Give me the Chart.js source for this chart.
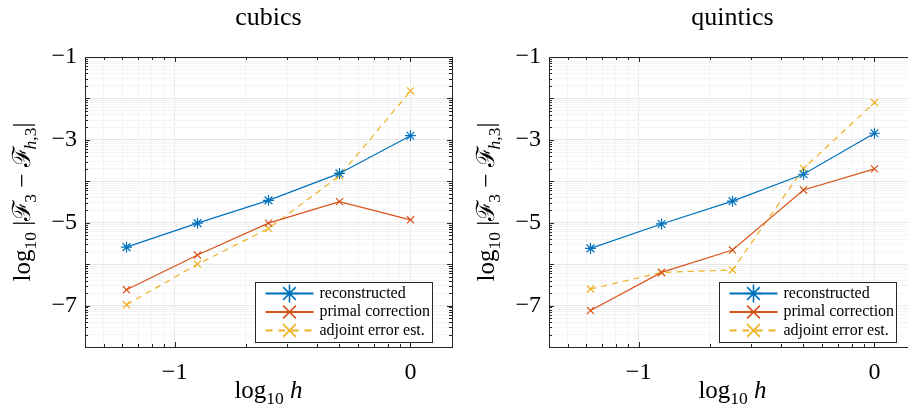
<!DOCTYPE html>
<html>
<head>
<meta charset="utf-8">
<script src="https://cdn.jsdelivr.net/npm/chart.js@4.4.0/dist/chart.umd.min.js"></script>
<style>
  html, body { margin: 0; padding: 0; background: #fff; overflow: hidden; width: 908px; height: 407px; }
  canvas { position: absolute; top: 0; }
  #cubics { left: 0; }
  #quintics { left: 464px; }
</style>
</head>
<body>
<canvas id="cubics" width="460" height="407"></canvas>
<canvas id="quintics" width="460" height="407"></canvas>
<script>
// data (log10 of h and of the error)
const logH = [-1.204, -0.903, -0.602, -0.301, 0];
const seriesNames = ['reconstructed', 'primal correction', 'adjoint error est.'];

const cubicRecon   = [-5.59, -5.01, -4.46, -3.81, -2.90];
const cubicPrimal  = [-6.62, -5.78, -5.01, -4.49, -4.93];
const cubicAdjoint = [-6.98, -6.00, -5.14, -3.87, -1.82];

const quinticRecon   = [-5.62, -5.03, -4.48, -3.83, -2.84];
const quinticPrimal  = [-7.12, -6.20, -5.66, -4.21, -3.70];
const quinticAdjoint = [-6.60, -6.20, -6.14, -3.69, -2.10];

const xLabelVals = [-1, 0];
const yLabelVals = [-1, -3, -5, -7];
const xRange = [-1.38, 0.176];
const yRange = [-8, -1];

const SERIF = "'Liberation Serif', 'DejaVu Serif', serif";
const BLUE = '#0072BD', ORANGE = '#D95319', YELLOW = '#EDB120';
const INK = '#262626';

// log-style tick positions (decades plus log10(k) inside each decade)
function logTicks(lo, hi) {
    const out = [];
    for (let d = Math.floor(lo) - 1; d <= Math.ceil(hi); d++) {
        for (let k = 1; k <= 9; k++) {
            const v = d + Math.log10(k);
            if (v >= lo - 1e-9 && v <= hi + 1e-9) out.push(v);
        }
    }
    return out;
}
const isMajor = v => Math.abs(v - Math.round(v)) < 1e-6;
const fmt = v => (v < 0 ? '\u2212' : '') + Math.abs(Math.round(v));

function drawRich(ctx, parts, x, y, size) {
    let w = 0;
    parts.forEach(p => {
        ctx.font = (p.it ? 'italic ' : '') + (size * (p.s || 1)) + 'px ' + SERIF;
        p.w = ctx.measureText(p.t).width + (p.kx || 0);
        w += p.w;
    });
    let cx = x - w / 2;
    ctx.textAlign = 'left';
    ctx.textBaseline = 'alphabetic';
    parts.forEach(p => {
        ctx.font = (p.it ? 'italic ' : '') + (size * (p.s || 1)) + 'px ' + SERIF;
        ctx.fillText(p.t, cx + (p.kx || 0), y + (p.dy || 0) * size);
        cx += p.w;
    });
}

function drawMarker(ctx, style, x, y, r) {
    ctx.beginPath();
    if (style === 'star') {
        ctx.moveTo(x - r, y); ctx.lineTo(x + r, y);
        ctx.moveTo(x, y - r); ctx.lineTo(x, y + r);
    }
    const d = r * Math.SQRT1_2;
    ctx.moveTo(x - d, y - d); ctx.lineTo(x + d, y + d);
    ctx.moveTo(x - d, y + d); ctx.lineTo(x + d, y - d);
    ctx.stroke();
}

const decoPlugin = {
    id: 'deco',
    afterDraw(chart, args, opts) {
        const ctx = chart.ctx;
        const a = chart.chartArea;
        const xs = chart.scales.x, ys = chart.scales.y;
        ctx.save();

        // inward tick marks on all four sides
        ctx.strokeStyle = INK;
        ctx.lineWidth = 1;
        ctx.beginPath();
        xs.ticks.forEach(t => {
            const px = Math.round(xs.getPixelForValue(t.value)) + 0.5;
            const len = isMajor(t.value) ? 5 : 3;
            ctx.moveTo(px, a.bottom); ctx.lineTo(px, a.bottom - len);
            ctx.moveTo(px, a.top); ctx.lineTo(px, a.top + len);
        });
        ys.ticks.forEach(t => {
            const py = Math.round(ys.getPixelForValue(t.value)) + 0.5;
            const len = isMajor(t.value) ? 5 : 3;
            ctx.moveTo(a.left, py); ctx.lineTo(a.left + len, py);
            ctx.moveTo(a.right, py); ctx.lineTo(a.right - len, py);
        });
        ctx.stroke();
        ctx.strokeRect(Math.round(a.left) + 0.5, Math.round(a.top) + 0.5,
            Math.round(a.right - a.left), Math.round(a.bottom - a.top));

        // title
        ctx.fillStyle = '#000';
        ctx.font = '26px ' + SERIF;
        ctx.textAlign = 'center';
        ctx.textBaseline = 'alphabetic';
        ctx.fillText(opts.title, (a.left + a.right) / 2, 25);

        // x axis label
        drawRich(ctx, [
            { t: 'log' }, { t: '10', s: 0.7, dy: 0.25 }, { t: ' ' }, { t: 'h', it: true }
        ], (a.left + a.right) / 2, 398, 25);

        // y axis label
        ctx.save();
        ctx.translate(30, (a.top + a.bottom) / 2);
        ctx.rotate(-Math.PI / 2);
        drawRich(ctx, [
            { t: 'log' }, { t: '10', s: 0.7, dy: 0.25 }, { t: ' |' },
            { t: '\u2131' }, { t: '3', s: 0.7, dy: 0.25, kx: -3 }, { t: ' \u2212 ' },
            { t: '\u2131' }, { t: 'h', s: 0.7, dy: 0.25, it: true, kx: -3 }, { t: ',3', s: 0.7, dy: 0.25 },
            { t: '|' }
        ], 0, 0, 25);
        ctx.restore();

        // legend box in the lower right corner
        const bw = 177, bh = 60;
        const bx = Math.round(a.right - 20 - bw) + 0.5;
        const by = Math.round(a.bottom - 5 - bh) + 0.5;
        ctx.fillStyle = '#fff';
        ctx.fillRect(bx, by, bw, bh);
        ctx.strokeStyle = INK;
        ctx.lineWidth = 1;
        ctx.strokeRect(bx, by, bw, bh);
        const rows = [11, 29.5, 48];
        chart.data.datasets.forEach((ds, i) => {
            const ry = by + rows[i];
            ctx.strokeStyle = ds.borderColor;
            ctx.lineWidth = 2;
            ctx.setLineDash(ds.borderDash && ds.borderDash.length ? [7, 6] : []);
            ctx.beginPath();
            ctx.moveTo(bx + 10, ry); ctx.lineTo(bx + 58, ry);
            ctx.stroke();
            ctx.setLineDash([]);
            ctx.lineWidth = 1.6;
            drawMarker(ctx, ds.pointStyle, bx + 34, ry, 9);
            ctx.fillStyle = '#000';
            ctx.font = '16px ' + SERIF;
            ctx.textAlign = 'left';
            ctx.textBaseline = 'middle';
            ctx.fillText(ds.label, bx + 64, ry);
        });
        ctx.restore();
    }
};

function series(label, ys, color, style, dashed) {
    return {
        label: label,
        data: logH.map((x, i) => ({ x: x, y: ys[i] })),
        borderColor: color,
        backgroundColor: color,
        borderWidth: 1.2,
        borderDash: dashed ? [6, 5] : [],
        pointStyle: style,
        pointRadius: style === 'star' ? 5.5 : 5,
        pointBorderWidth: 1.2,
        pointBorderColor: color,
        pointHoverRadius: 5,
        tension: 0,
        fill: false
    };
}

function makeChart(id, title, recon, primal, adjoint) {
    return new Chart(document.getElementById(id), {
        type: 'line',
        data: {
            datasets: [
                series(seriesNames[0], recon, BLUE, 'star', false),
                series(seriesNames[1], primal, ORANGE, 'crossRot', false),
                series(seriesNames[2], adjoint, YELLOW, 'crossRot', true)
            ]
        },
        options: {
            responsive: false,
            animation: false,
            events: [],
            layout: { padding: { top: 57, right: 8, left: 0, bottom: 0 } },
            plugins: {
                legend: { display: false },
                tooltip: { enabled: false },
                deco: { title: title }
            },
            scales: {
                x: {
                    type: 'linear',
                    min: xRange[0], max: xRange[1],
                    afterFit(s) { s.height = 60; },
                    afterBuildTicks(s) { s.ticks = logTicks(xRange[0], xRange[1]).map(v => ({ value: v })); },
                    ticks: {
                        autoSkip: false, maxRotation: 0, padding: 11, color: '#000',
                        font: { family: SERIF, size: 24 },
                        callback: v => (isMajor(v) && xLabelVals.includes(Math.round(v))) ? fmt(v) : ''
                    },
                    grid: { drawTicks: false, color: c => isMajor(c.tick.value) ? '#e8e8e8' : '#f4f4f4' },
                    border: { display: false }
                },
                y: {
                    type: 'linear',
                    min: yRange[0], max: yRange[1],
                    afterFit(s) { s.width = 85; },
                    afterBuildTicks(s) { s.ticks = logTicks(yRange[0], yRange[1]).map(v => ({ value: v })); },
                    ticks: {
                        autoSkip: false, padding: 8, color: '#000',
                        font: { family: SERIF, size: 24 },
                        callback: v => (isMajor(v) && yLabelVals.includes(Math.round(v))) ? fmt(v) : ''
                    },
                    grid: { drawTicks: false, color: c => isMajor(c.tick.value) ? '#e8e8e8' : '#f4f4f4' },
                    border: { display: false }
                }
            }
        },
        plugins: [decoPlugin]
    });
}

makeChart('cubics', 'cubics', cubicRecon, cubicPrimal, cubicAdjoint);
makeChart('quintics', 'quintics', quinticRecon, quinticPrimal, quinticAdjoint);
</script>
</body>
</html>
